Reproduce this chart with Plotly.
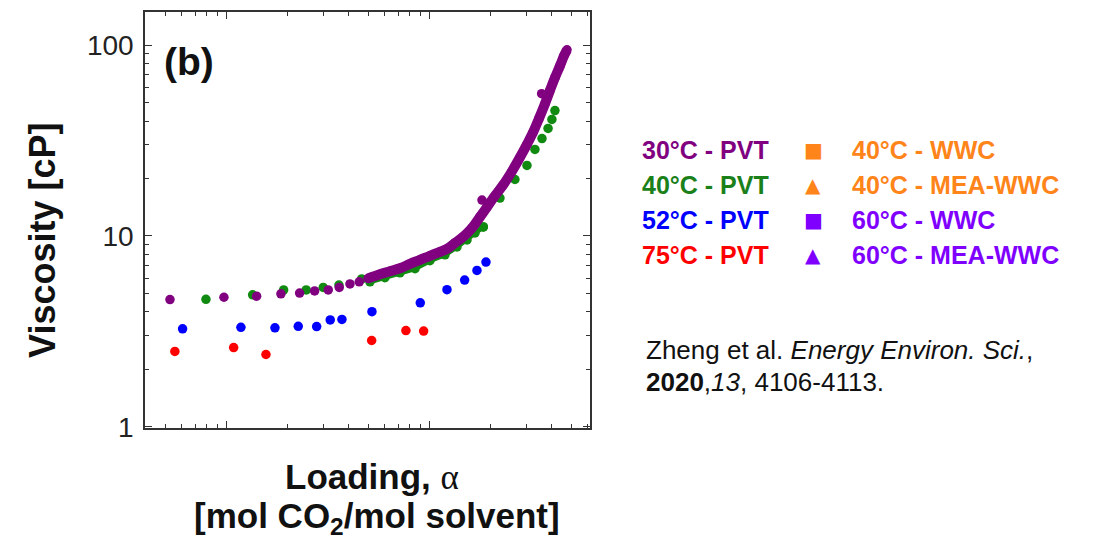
import plotly.graph_objects as go

# ---------------- data ----------------
# 75 °C - PVT
red_x = [0.00556, 0.01083, 0.01562, 0.0518, 0.0764, 0.0934]
red_y = [2.48, 2.60, 2.39, 2.83, 3.19, 3.17]

# 52 °C - PVT
blue_x = [0.00607, 0.01176, 0.0173, 0.02253, 0.02776, 0.03238, 0.03698,
          0.05197, 0.0899, 0.1217, 0.1487, 0.171, 0.1894]
blue_y = [3.26, 3.32, 3.30, 3.36, 3.35, 3.63, 3.65,
          4.01, 4.46, 5.23, 5.87, 6.59, 7.29]

# 40 °C - PVT (sparse points)
green_x = [0.00791, 0.01343, 0.01909, 0.02465, 0.02991, 0.03574, 0.04624,
           0.1837, 0.222, 0.263, 0.3015, 0.330, 0.3575, 0.383, 0.400, 0.414]
green_y = [4.65, 4.91, 5.21, 5.21, 5.37, 5.53, 5.95,
           11.14, 15.79, 19.76, 23.4, 28.4, 32.4, 36.6, 40.8, 45.4]
# 40 °C - PVT (dense run of points)
green_dense_x = [0.0508, 0.0602, 0.0714, 0.0847, 0.1003, 0.1190, 0.1363,
                 0.1527, 0.1672, 0.1837]
green_dense_y = [5.75, 6.04, 6.41, 6.73, 7.41, 7.96, 8.76, 9.53, 10.37, 11.14]

# 30 °C - PVT (sparse points)
purple_x = [0.00526, 0.0097, 0.01405, 0.01851, 0.02288, 0.02713, 0.03166,
            0.03587, 0.0405, 0.0450, 0.181, 0.356]
purple_y = [4.64, 4.77, 4.83, 4.97, 5.02, 5.15, 5.21,
            5.37, 5.60, 5.75, 15.41, 55.7]
# 30 °C - PVT (dense run of points)
purple_dense_x = [0.0497, 0.0569, 0.0638, 0.0714, 0.0800, 0.0896, 0.1003,
                  0.1124, 0.1217, 0.1332, 0.1459, 0.1616, 0.1769, 0.1916,
                  0.2073, 0.2297, 0.2543, 0.2785, 0.3015, 0.3228, 0.3455,
                  0.370, 0.391, 0.414, 0.4385, 0.4587, 0.4747]
purple_dense_y = [5.99, 6.30, 6.53, 6.77, 7.14, 7.49, 7.87,
                  8.25, 8.55, 9.19, 9.88, 11.01, 12.57, 14.17,
                  15.98, 18.45, 21.83, 25.83, 30.2, 34.87, 41.27,
                  49.4, 57.76, 67.5, 78.0, 87.9, 94.5]

y_tick_vals = [1, 10, 100]
y_tick_text = ["1", "10", "100"]
y_minor_vals = [2, 3, 4, 5, 6, 7, 8, 9, 20, 30, 40, 50, 60, 70, 80, 90]
x_major_vals = [0.01, 0.1]
x_minor_vals = [0.005, 0.006, 0.007, 0.008, 0.009,
                0.02, 0.03, 0.04, 0.05, 0.06, 0.07, 0.08, 0.09,
                0.2, 0.3, 0.4, 0.5, 0.6]

legend_left = ["30°C - PVT", "40°C - PVT", "52°C - PVT", "75°C - PVT"]
legend_left_colors = ["#800080", "#1a801a", "#0000ff", "#ff0000"]
legend_right = ["40°C - WWC", "40°C - MEA-WWC", "60°C - WWC", "60°C - MEA-WWC"]
legend_right_symbols = ["■", "▲", "■", "▲"]
legend_right_colors = ["#ff8419", "#ff8419", "#8000ff", "#8000ff"]

FONT = "Liberation Sans, Arial, sans-serif"
PURPLE, GREEN, BLUE, RED = "#800080", "#108a10", "#0000ff", "#ff0000"
MS = 9.5

fig = go.Figure()
fig.add_trace(go.Scatter(x=red_x, y=red_y, mode="markers",
                         marker=dict(color=RED, size=MS), showlegend=False))
fig.add_trace(go.Scatter(x=blue_x, y=blue_y, mode="markers",
                         marker=dict(color=BLUE, size=MS), showlegend=False))
fig.add_trace(go.Scatter(x=green_dense_x, y=green_dense_y, mode="lines+markers",
                         line=dict(color=GREEN, width=5),
                         marker=dict(color=GREEN, size=MS), showlegend=False))
fig.add_trace(go.Scatter(x=green_x, y=green_y, mode="markers",
                         marker=dict(color=GREEN, size=MS), showlegend=False))
fig.add_trace(go.Scatter(x=purple_dense_x, y=purple_dense_y, mode="lines+markers",
                         line=dict(color=PURPLE, width=10, shape="spline"),
                         marker=dict(color=PURPLE, size=MS), showlegend=False))
fig.add_trace(go.Scatter(x=purple_x, y=purple_y, mode="markers",
                         marker=dict(color=PURPLE, size=MS), showlegend=False))

axis_common = dict(showline=True, linecolor="#333333", linewidth=1.5,
                   mirror="allticks", showgrid=False, zeroline=False,
                   ticks="inside", ticklen=7, tickwidth=1.2, tickcolor="#333333")

fig.update_xaxes(type="log", range=[-2.402, -0.2103], tickvals=x_major_vals,
                 showticklabels=False,
                 minor=dict(tickvals=x_minor_vals, ticks="inside", ticklen=4,
                            tickwidth=1, tickcolor="#333333", showgrid=False),
                 **axis_common)
fig.update_yaxes(type="log", range=[-0.0068, 2.1737],
                 tickvals=y_tick_vals, ticktext=y_tick_text,
                 tickfont=dict(family=FONT, size=28, color="#222222"),
                 ticklabelstandoff=4,
                 minor=dict(tickvals=y_minor_vals, ticks="inside", ticklen=4,
                            tickwidth=1, tickcolor="#333333", showgrid=False),
                 **axis_common)

L, R, T, B = 145, 590, 10, 428
def px(xp):
    return (xp - L) / (R - L)
def py(yp):
    return (B - yp) / (B - T)

ann = []
ann.append(dict(text="(b)", x=px(162), y=py(60), xanchor="left", yanchor="middle",
                font=dict(family=FONT, size=39, color="#111111", weight="bold")))
ann.append(dict(text="Viscosity [cP]", x=px(43), y=py(240), textangle=-90,
                xanchor="center", yanchor="middle",
                font=dict(family=FONT, size=36, color="#111111", weight="bold")))
ann.append(dict(text="Loading, <span style='font-family:Liberation Serif;font-weight:normal'>α</span>",
                x=px(372), y=py(477), xanchor="center", yanchor="middle",
                font=dict(family=FONT, size=35, color="#111111", weight="bold")))
ann.append(dict(text="[mol CO<sub>2</sub>/mol solvent]",
                x=px(377), y=py(518), xanchor="center", yanchor="middle",
                font=dict(family=FONT, size=35, color="#111111", weight="bold")))

rows = [149, 184, 219, 254]
for i, yy in enumerate(rows):
    ann.append(dict(text=legend_left[i], x=px(640), y=py(yy), xanchor="left",
                    yanchor="middle",
                    font=dict(family=FONT, size=25, color=legend_left_colors[i],
                              weight="bold")))
    ann.append(dict(text=legend_right_symbols[i], x=px(813), y=py(yy), xanchor="center",
                    yanchor="middle",
                    font=dict(family="DejaVu Sans", size=20,
                              color=legend_right_colors[i])))
    ann.append(dict(text=legend_right[i], x=px(850), y=py(yy), xanchor="left",
                    yanchor="middle",
                    font=dict(family=FONT, size=25, color=legend_right_colors[i],
                              weight="bold")))

ann.append(dict(text="Zheng et al. <i>Energy Environ. Sci.</i>,", x=px(644), y=py(350),
                xanchor="left", yanchor="middle",
                font=dict(family=FONT, size=26, color="#111111")))
ann.append(dict(text="<b>2020</b>,<i>13</i>, 4106-4113.", x=px(644), y=py(382),
                xanchor="left", yanchor="middle",
                font=dict(family=FONT, size=26, color="#111111")))

for a in ann:
    a.update(xref="paper", yref="paper", showarrow=False)

fig.update_layout(width=1094, height=539,
                  margin=dict(l=L, r=1094 - R, t=T, b=539 - B),
                  paper_bgcolor="white", plot_bgcolor="white",
                  annotations=ann, showlegend=False)

fig.write_html("out.html", config={"displayModeBar": False},
               post_script="document.body.style.margin='0px';"
                           "document.body.style.overflow='hidden';")
